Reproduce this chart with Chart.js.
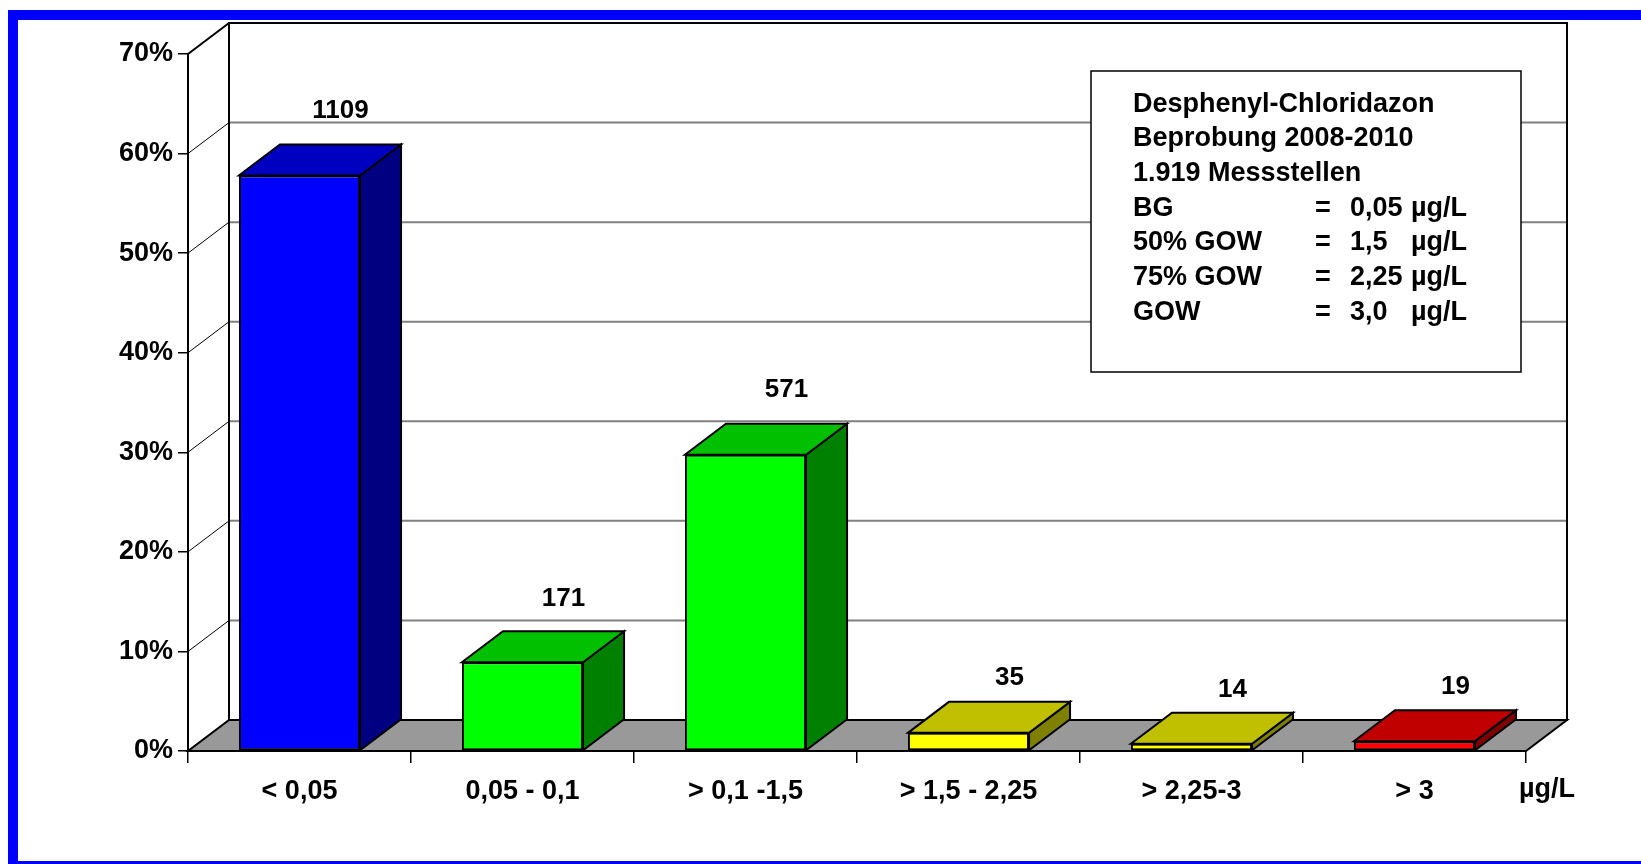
<!DOCTYPE html>
<html>
<head>
<meta charset="utf-8">
<title>Desphenyl-Chloridazon – Beprobung 2008-2010</title>
<script src="https://cdn.jsdelivr.net/npm/chart.js@4.4.0/dist/chart.umd.min.js"></script>
<style>
  html, body { margin: 0; padding: 0; background: #fff; width: 1641px; height: 864px; overflow: hidden; }
  #frame { position: absolute; left: 8px; top: 10px; width: 1800px; height: 841px; border: 10px solid #0000ff; background: #fff; }
  #chart { position: absolute; left: 0; top: 0; }
</style>
</head>
<body>
<div id="frame"></div>
<canvas id="chart" width="1641" height="864"></canvas>
<script>
// Concentration classes (µg/L) and number of monitoring sites per class
const categories = ['< 0,05', '0,05 - 0,1', '> 0,1 -1,5', '> 1,5 - 2,25', '> 2,25-3', '> 3'];
const counts = [1109, 171, 571, 35, 14, 19];
const totalSites = 1919;
// share of all sites in percent, derived from the counts shown above the bars
const shares = counts.map(n => n / totalSites * 100);
const yTickValues = [0, 10, 20, 30, 40, 50, 60, 70];
const unitLabel = 'µg/L';

// info box text
const infoTitleLines = ['Desphenyl-Chloridazon', 'Beprobung 2008-2010', '1.919 Messstellen'];
const limitNames = ['BG', '50% GOW', '75% GOW', 'GOW'];
const limitValues = ['0,05', '1,5', '2,25', '3,0'];

// bar face colours: front, top, side
const frontColors = ['#0000ff', '#00ff00', '#00ff00', '#ffff00', '#ffff00', '#ff0000'];
const topColors   = ['#0000c0', '#00c000', '#00c000', '#c0c000', '#c0c000', '#c00000'];
const sideColors  = ['#000080', '#008000', '#008000', '#808000', '#808000', '#800000'];

const FONT = '"Liberation Sans", Arial, Helvetica, sans-serif';
const DEPTH_X = 41;   // horizontal offset of the 3D depth
const DEPTH_Y = 31;   // vertical offset of the 3D depth

function poly(ctx, pts, fill) {
  ctx.beginPath();
  ctx.moveTo(pts[0][0], pts[0][1]);
  for (let i = 1; i < pts.length; i++) ctx.lineTo(pts[i][0], pts[i][1]);
  ctx.closePath();
  if (fill) { ctx.fillStyle = fill; ctx.fill(); }
  ctx.stroke();
}
function seg(ctx, x1, y1, x2, y2) {
  ctx.beginPath(); ctx.moveTo(x1, y1); ctx.lineTo(x2, y2); ctx.stroke();
}

// back wall, side wall and floor of the 3D box
const wallsPlugin = {
  id: 'walls',
  beforeDraw(chart) {
    const { ctx, chartArea: a, scales: { y } } = chart;
    const L = a.left, R = a.right, T = a.top, B = a.bottom;
    ctx.save();
    ctx.lineCap = 'butt';
    // gridlines on the back wall
    ctx.strokeStyle = '#808080';
    ctx.lineWidth = 2;
    yTickValues.forEach(v => {
      if (v === y.min || v === y.max) return;
      const py = y.getPixelForValue(v) - DEPTH_Y;
      seg(ctx, L + DEPTH_X, py, R + DEPTH_X, py);
    });
    // gridlines on the side wall
    ctx.strokeStyle = '#000';
    ctx.lineWidth = 1;
    yTickValues.forEach(v => {
      if (v === y.min || v === y.max) return;
      const py = y.getPixelForValue(v);
      seg(ctx, L, py, L + DEPTH_X, py - DEPTH_Y);
    });
    // back wall outline
    ctx.lineWidth = 2;
    ctx.strokeRect(L + DEPTH_X, T - DEPTH_Y, R - L, B - T);
    // top edge of the side wall
    seg(ctx, L, T, L + DEPTH_X, T - DEPTH_Y);
    // floor
    ctx.lineJoin = 'miter';
    poly(ctx, [[L, B], [R, B], [R + DEPTH_X, B - DEPTH_Y], [L + DEPTH_X, B - DEPTH_Y]], '#999999');
    ctx.restore();
  }
};

// top and side faces of each bar, plus the count labels
const bars3dPlugin = {
  id: 'bars3d',
  afterDatasetsDraw(chart) {
    const { ctx } = chart;
    const meta = chart.getDatasetMeta(0);
    ctx.save();
    ctx.strokeStyle = '#000';
    ctx.lineWidth = 2;
    ctx.lineJoin = 'miter';
    meta.data.forEach((el, i) => {
      const { x, y: top, base, width } = el.getProps(['x', 'y', 'base', 'width'], true);
      const xl = x - width / 2, xr = x + width / 2;
      poly(ctx, [[xr, top], [xr + DEPTH_X, top - DEPTH_Y], [xr + DEPTH_X, base - DEPTH_Y], [xr, base]], sideColors[i]);
      poly(ctx, [[xl, top], [xr, top], [xr + DEPTH_X, top - DEPTH_Y], [xl + DEPTH_X, top - DEPTH_Y]], topColors[i]);
    });
    ctx.fillStyle = '#000';
    ctx.font = 'bold 26px ' + FONT;
    ctx.textAlign = 'center';
    ctx.textBaseline = 'alphabetic';
    meta.data.forEach((el, i) => {
      const { x, y: top } = el.getProps(['x', 'y'], true);
      const gap = 24 + Math.min(shares[i], 10) * 1.2;
      ctx.fillText(String(counts[i]), x + DEPTH_X, top - DEPTH_Y - gap + 9.5);
    });
    ctx.restore();
  },
  afterDraw(chart) {
    const { ctx, chartArea: a, scales: { x } } = chart;
    ctx.save();
    ctx.fillStyle = '#000';
    ctx.font = 'bold 27px ' + FONT;
    ctx.textBaseline = 'alphabetic';
    // unit next to the category axis
    ctx.textAlign = 'left';
    ctx.fillText(unitLabel, a.right - 7, 797);

    // info box
    const bx = 1091, by = 71, bw = 430, bh = 301;
    ctx.fillStyle = '#fff';
    ctx.fillRect(bx, by, bw, bh);
    ctx.strokeStyle = '#000';
    ctx.lineWidth = 1.5;
    ctx.strokeRect(bx, by, bw, bh);
    ctx.fillStyle = '#000';
    const lineGap = 34.7;
    let base = 111.5;
    const tx = bx + 42;
    infoTitleLines.forEach(t => { ctx.fillText(t, tx, base); base += lineGap; });
    limitNames.forEach((n, i) => {
      ctx.fillText(n, tx, base);
      ctx.fillText('=', tx + 182, base);
      ctx.fillText(limitValues[i], tx + 217, base);
      ctx.fillText(unitLabel, tx + 278, base);
      base += lineGap;
    });
    ctx.restore();
  }
};

new Chart(document.getElementById('chart'), {
  type: 'bar',
  data: {
    labels: categories,
    datasets: [{
      data: shares,
      backgroundColor: frontColors,
      borderColor: '#000',
      borderWidth: 2,
      borderSkipped: false,
      categoryPercentage: 1,
      barPercentage: 0.543
    }]
  },
  options: {
    responsive: false,
    animation: false,
    devicePixelRatio: 1,
    layout: { padding: { top: 54, right: 115, left: 0, bottom: 0 } },
    plugins: { legend: { display: false }, tooltip: { enabled: false }, title: { display: false } },
    scales: {
      x: {
        offset: true,
        grid: { offset: true, drawOnChartArea: false, drawTicks: true, tickLength: 12, color: '#000', lineWidth: 1.5 },
        border: { display: true, color: '#000', width: 2 },
        ticks: { color: '#000', padding: 12, maxRotation: 0, autoSkip: false, font: { family: FONT, size: 27, weight: 'bold' } },
        afterFit(scale) { scale.height = 113; }
      },
      y: {
        min: 0,
        max: 70,
        afterBuildTicks(scale) { scale.ticks = yTickValues.map(v => ({ value: v })); },
        grid: { drawOnChartArea: false, drawTicks: true, tickLength: 10, color: '#000', lineWidth: 1.5 },
        border: { display: true, color: '#000', width: 2 },
        ticks: { color: '#000', padding: 5, callback: v => v + '%', font: { family: FONT, size: 27, weight: 'bold' } },
        afterFit(scale) { scale.width = 188; }
      }
    }
  },
  plugins: [wallsPlugin, bars3dPlugin]
});
</script>
</body>
</html>
